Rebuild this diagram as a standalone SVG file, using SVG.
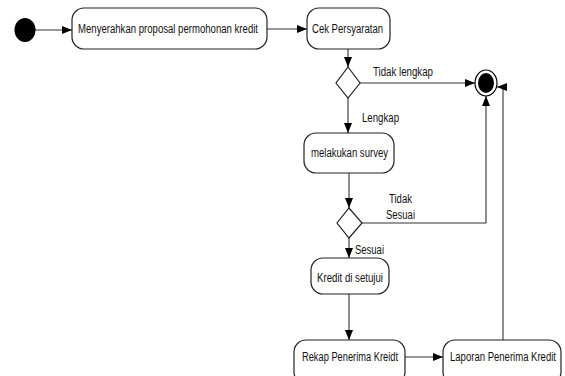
<svg xmlns="http://www.w3.org/2000/svg" width="565" height="376" viewBox="0 0 565 376">
<style>
.n{fill:#fff;stroke:#222;stroke-width:1.2}
.t{font-family:"Liberation Sans",Arial,sans-serif;font-size:12px;fill:#111}
.c{fill:none;stroke:#333;stroke-width:1.1}
</style>
<defs>
<marker id="a" viewBox="0 0 10 8" refX="10" refY="4" markerWidth="10" markerHeight="8" markerUnits="userSpaceOnUse" orient="auto">
<path d="M0,0 L10,4 L0,8 Z" fill="#000"/>
</marker>
</defs>
<rect width="565" height="376" fill="#fff"/>
<g id="connectors">
<path class="c" d="M35,30 H72" marker-end="url(#a)"/>
<path class="c" d="M267,29 H307" marker-end="url(#a)"/>
<path class="c" d="M348,49 V67" marker-end="url(#a)"/>
<path class="c" d="M360,83 H475" marker-end="url(#a)"/>
<path class="c" d="M348,98 V133" marker-end="url(#a)"/>
<path class="c" d="M349,173 V208" marker-end="url(#a)"/>
<path class="c" d="M362,223 H486 V96" marker-end="url(#a)"/>
<path class="c" d="M349,238 V258" marker-end="url(#a)"/>
<path class="c" d="M349,294 V340" marker-end="url(#a)"/>
<path class="c" d="M405,357 H443" marker-end="url(#a)"/>
<path class="c" d="M503,340 V87 H497" marker-end="url(#a)"/>
</g>
<g id="start"><ellipse cx="25" cy="30" rx="10.5" ry="12" fill="#000"/></g>
<g id="n1"><rect class="n" x="72" y="8" width="195" height="41" rx="12"/><text class="t" x="78" y="33" textLength="180" lengthAdjust="spacingAndGlyphs">Menyerahkan proposal permohonan kredit</text></g>
<g id="n2"><rect class="n" x="307" y="8" width="83" height="41" rx="12"/><text class="t" x="312" y="33" textLength="71" lengthAdjust="spacingAndGlyphs">Cek Persyaratan</text></g>
<g id="d1"><polygon class="n" points="348,67 360,83 348,98 336,83"/></g>
<g id="end"><ellipse cx="486" cy="83" rx="11" ry="13" fill="#fff" stroke="#000" stroke-width="1.2"/><ellipse cx="486" cy="83" rx="8" ry="10" fill="#000"/></g>
<g id="l1"><text class="t" x="373" y="76" textLength="60" lengthAdjust="spacingAndGlyphs">Tidak lengkap</text></g>
<g id="l2"><text class="t" x="362" y="122" textLength="37" lengthAdjust="spacingAndGlyphs">Lengkap</text></g>
<g id="n3"><rect class="n" x="304" y="133" width="90" height="40" rx="12"/><text class="t" x="311" y="157" textLength="77" lengthAdjust="spacingAndGlyphs">melakukan survey</text></g>
<g id="d2"><polygon class="n" points="349,208 362,223 349,238 337,223"/></g>
<g id="l3"><text class="t" x="389" y="203" textLength="23" lengthAdjust="spacingAndGlyphs">Tidak</text><text class="t" x="386" y="219" textLength="29" lengthAdjust="spacingAndGlyphs">Sesuai</text></g>
<g id="l4"><text class="t" x="355" y="254" textLength="29" lengthAdjust="spacingAndGlyphs">Sesuai</text></g>
<g id="n4"><rect class="n" x="311" y="258" width="78" height="36" rx="12"/><text class="t" x="317" y="282" textLength="66" lengthAdjust="spacingAndGlyphs">Kredit di setujui</text></g>
<g id="n5"><rect class="n" x="294" y="340" width="111" height="44" rx="12"/><text class="t" x="302" y="361" textLength="96" lengthAdjust="spacingAndGlyphs">Rekap Penerima Kreidt</text></g>
<g id="n6"><rect class="n" x="443" y="340" width="118" height="44" rx="12"/><text class="t" x="450" y="361" textLength="106" lengthAdjust="spacingAndGlyphs">Laporan Penerima Kredit</text></g>
</svg>
